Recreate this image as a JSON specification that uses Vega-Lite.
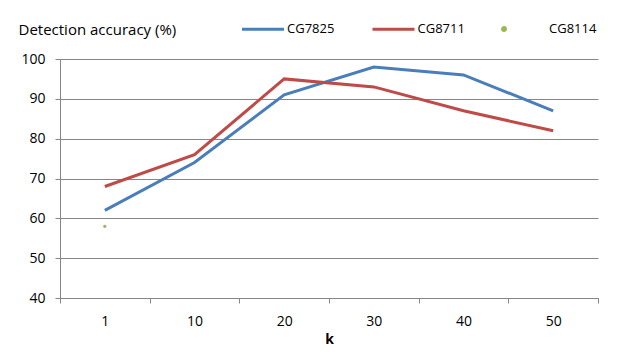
{
  "$schema": "https://vega.github.io/schema/vega-lite/v6.json",
  "autosize": "none",
  "width": 538,
  "height": 239,
  "padding": {"left": 60, "top": 59, "right": 25, "bottom": 63},
  "background": "white",
  "config": {
    "font": "Open Sans",
    "view": {"stroke": null}
  },
  "data": {
    "values": [
      {"k": 1, "series": "CG7825", "acc": 62},
      {"k": 10, "series": "CG7825", "acc": 74},
      {"k": 20, "series": "CG7825", "acc": 91},
      {"k": 30, "series": "CG7825", "acc": 98},
      {"k": 40, "series": "CG7825", "acc": 96},
      {"k": 50, "series": "CG7825", "acc": 87},
      {"k": 1, "series": "CG8711", "acc": 68},
      {"k": 10, "series": "CG8711", "acc": 76},
      {"k": 20, "series": "CG8711", "acc": 95},
      {"k": 30, "series": "CG8711", "acc": 93},
      {"k": 40, "series": "CG8711", "acc": 87},
      {"k": 50, "series": "CG8711", "acc": 82},
      {"k": 1, "series": "CG8114", "acc": 58}
    ]
  },
  "encoding": {
    "x": {
      "field": "k",
      "type": "ordinal",
      "bandPosition": 0.5,
      "scale": {"type": "band", "paddingInner": 0, "paddingOuter": 0},
      "axis": {
        "title": "k",
        "titleFont": "Open Sans",
        "titleFontSize": 14,
        "titleFontWeight": "bold",
        "titleColor": "black",
        "titlePadding": 4,
        "labelAngle": 0,
        "labelFont": "Open Sans",
        "labelFontSize": 14,
        "labelColor": "black",
        "labelPadding": 11,
        "tickBand": "extent",
        "tickSize": 5,
        "tickColor": "#868686",
        "domainColor": "#868686",
        "grid": false
      }
    },
    "y": {
      "field": "acc",
      "type": "quantitative",
      "scale": {"domain": [40, 100], "nice": false, "zero": false},
      "axis": {
        "values": [40, 50, 60, 70, 80, 90, 100],
        "title": "Detection accuracy (%)",
        "titleAngle": 0,
        "titleAlign": "left",
        "titleBaseline": "middle",
        "titleX": -42,
        "titleY": -30,
        "titleFont": "Open Sans",
        "titleFontSize": 15,
        "titleFontWeight": "normal",
        "titleColor": "black",
        "labelFont": "Open Sans",
        "labelFontSize": 14,
        "labelColor": "black",
        "labelPadding": 10,
        "tickSize": 5,
        "tickColor": "#868686",
        "domainColor": "#868686",
        "gridColor": "#868686",
        "gridWidth": 1
      }
    },
    "color": {
      "field": "series",
      "type": "nominal",
      "scale": {
        "domain": ["CG7825", "CG8711", "CG8114"],
        "range": ["#4a7ebb", "#be4b48", "#98b954"]
      },
      "legend": {
        "orient": "none",
        "legendX": 180.5,
        "legendY": -52.5,
        "direction": "horizontal",
        "columns": 3,
        "title": null,
        "symbolType": "stroke",
        "symbolSize": 1764,
        "symbolStrokeWidth": 3,
        "labelOffset": 1.5,
        "columnPadding": 31.5,
        "labelFont": "Open Sans",
        "labelFontSize": 13,
        "labelColor": "black",
        "encode": {
          "symbols": {
            "update": {
              "shape": {"signal": "datum.value === 'CG8114' ? 'M -1.07 0 A 0.07 0.07 0 1 1 -0.93 0 A 0.07 0.07 0 1 1 -1.07 0 Z' : 'stroke'"},
              "fill": {"signal": "datum.value === 'CG8114' ? '#98b954' : 'transparent'"},
              "stroke": {"signal": "datum.value === 'CG8114' ? 'transparent' : scale('color', datum.value)"}
            }
          }
        }
      }
    }
  },
  "layer": [
    {
      "mark": {"type": "line", "strokeWidth": 3},
      "transform": [{"filter": "datum.series !== 'CG8114'"}]
    },
    {
      "mark": {"type": "point", "filled": true, "size": 10, "opacity": 1},
      "transform": [{"filter": "datum.series === 'CG8114'"}]
    }
  ]
}
